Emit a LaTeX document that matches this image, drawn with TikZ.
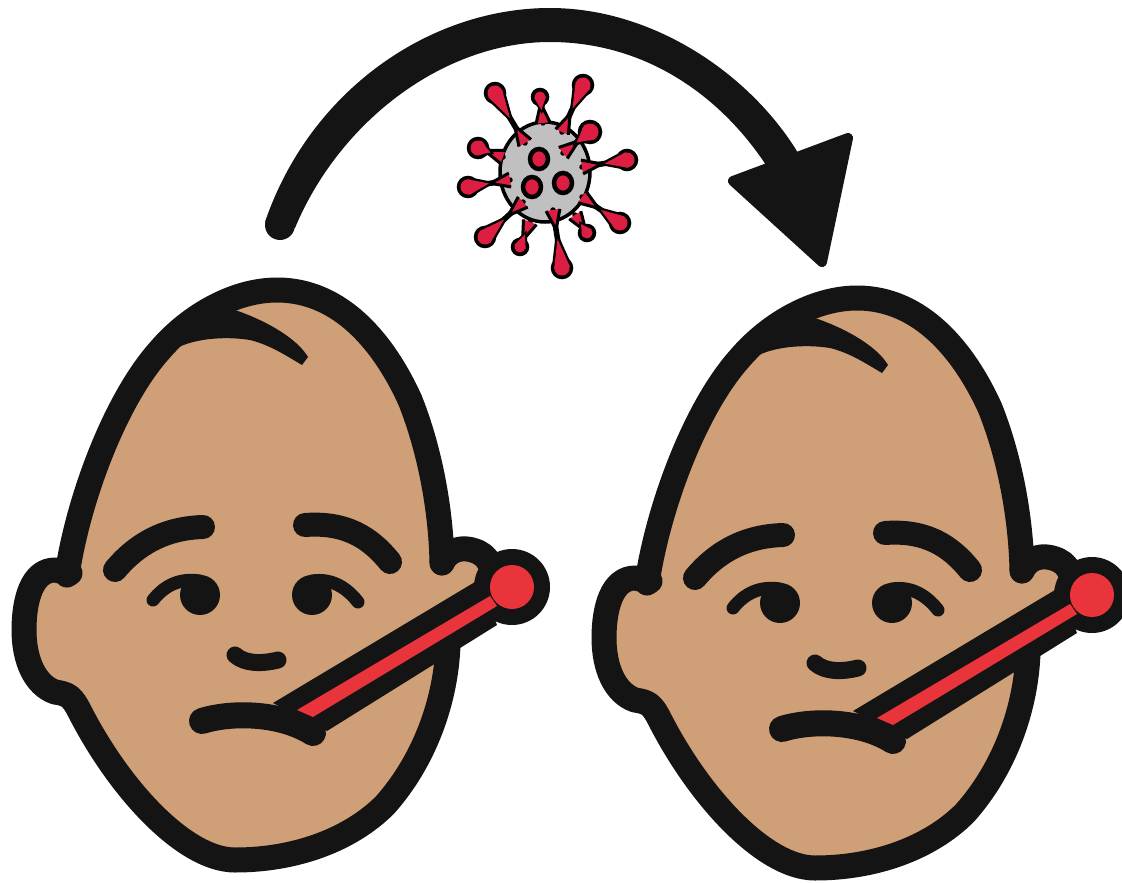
\documentclass[tikz,border=0pt]{standalone}
\usepackage{xcolor}
\usepackage{tikz}
\usetikzlibrary{arrows.meta,calc}
\definecolor{inkblack}{HTML}{141414}
\definecolor{skintone}{HTML}{CF9F78}
\definecolor{thermored}{HTML}{E8343A}
\definecolor{virusred}{HTML}{DC1E42}
\definecolor{virusgrey}{HTML}{C0C0C0}
\newcommand{\headoutline}{
    (448,645) .. controls (446,700) and (425,760) .. (385,805)
    .. controls (350,840) and (295,860) .. (235,860)
    .. controls (185,860) and (120,790) .. (80,712)
    .. controls (72,696) and (68,694) .. (55,692)
    .. controls (35,685) and (24,660) .. (24,630)
    .. controls (24,600) and (32,570) .. (55,570)
    -- (70,573) -- (67,575)
    .. controls (78,500) and (115,400) .. (160,350)
    .. controls (190,315) and (235,290) .. (277,290)
    .. controls (342,290) and (385,345) .. (410,400)
    .. controls (430,450) and (441,510) .. (442,563)
}
\tikzset{
    inkline/.style={
        draw=inkblack,
        line width=#1,
        line cap=round,
        line join=round
    },
    inkline/.default=25pt,
    spikeline/.style={
        draw=black,
        line width=5.5pt,
        line cap=round
    },
    spikehead/.style={
        draw=black,
        line width=4.5pt,
        fill=virusred
    },
    sickhead/.pic={
        \fill[skintone] \headoutline -- cycle;
        \fill[skintone] (440,555) -- (475,555) -- (490,590) -- (440,640) -- cycle;
        \draw[inkline] \headoutline;
        \draw[inkline] (442,563) .. controls (448,550) and (462,545) .. (478,552)
            .. controls (485,555) and (490,562) .. (492,570);
        \fill[inkblack] (170,352) .. controls (190,338) and (225,336) .. (250,340)
            .. controls (270,345) and (285,355) .. (302,365)
            -- (308,357) .. controls (298,340) and (270,322) .. (235,310)
            -- (210,310) -- cycle;
        \draw[inkline=24pt] (115,570) .. controls (140,540) and (170,528) .. (203,527);
        \draw[inkline=24pt] (305,525) .. controls (345,522) and (370,537) .. (390,562);
        \draw[inkline=13pt] (153,600) .. controls (165,585) and (180,578) .. (200,581);
        \draw[inkline=13pt] (312,581) .. controls (332,578) and (347,588) .. (358,602);
        \fill[inkblack] (200,595) circle (20);
        \fill[inkblack] (312,595) circle (20);
        \draw[inkline=17pt] (235,655) .. controls (245,664) and (262,664) .. (278,660);
        \draw[inkline=26pt] (202,721) .. controls (230,712) and (280,712) .. (313,733);
        \fill[inkblack] (512,587) circle (38);
        \fill[inkblack] (273,703) -- (480,579) -- (497,625) -- (327,731) -- cycle;
        \fill[inkblack] (313,733) circle (12);
        \fill[thermored] (512,587) circle (22);
        \fill[thermored] (490,596) -- (497,606) -- (313,717) -- (297,710) -- cycle;
    }
}
\begin{document}
\begin{tikzpicture}[x=1pt,y=-1pt]
    \useasboundingbox (0,0) rectangle (1122,883);

    \pic at (0,0) {sickhead};
    \pic at (580,8) {sickhead};

    \fill[inkblack] (265,222) .. controls (310,90) and (430,8) .. (550,8)
        .. controls (650,8) and (745,70) .. (795,148)
        -- (805,165) -- (775,180) -- (764,162)
        .. controls (715,90) and (640,42) .. (550,42)
        .. controls (445,42) and (340,120) .. (295,228) -- cycle;
    \fill[inkblack] (280,225) circle (15);
    \fill[inkblack, draw=inkblack, line width=10pt, line join=round]
        (848,138) -- (733,181) -- (822,262) -- cycle;

    \filldraw[draw=black, line width=3.5pt, fill=virusgrey] (545,172) ellipse (45 and 50);
    \foreach \cx/\cy in {539/159, 532/187, 563/183} {
        \filldraw[spikehead] (\cx,\cy) ellipse (9 and 10);
    }
    \foreach \bx/\by/\tx/\ty/\tr in {
        525/143/495/93/9, 543/123/540/97/7, 562/132/583/85/9, 563/153/590/132/10,
        582/167/627/160/9, 582/197/620/223/9, 575/215/587/233/7, 553/210/562/268/9,
        530/222/520/247/7, 523/202/485/237/9, 510/180/468/187/9, 503/157/478/148/9} {
        \coordinate (spikebase) at (\bx,\by);
        \coordinate (spiketip) at (\tx,\ty);
        \pgfmathsetmacro\blackw{\tr+1.5}
        \pgfmathsetmacro\redw{\tr-1}
        \draw[spikeline] (spikebase) -- (spiketip);
        \filldraw[draw=black, line width=3pt, line join=round, fill=virusred]
            ($(spikebase)!7pt!90:(spiketip)$) -- ($(spikebase)!20pt!(spiketip)$)
            -- ($(spikebase)!7pt!-90:(spiketip)$);
        \filldraw[spikehead] (spiketip) circle (\tr);
        \fill[black] ($(spiketip)!\blackw pt!90:(spikebase)$)
            -- ($(spiketip)!0.65!(spikebase)$)
            -- ($(spiketip)!\blackw pt!-90:(spikebase)$) -- cycle;
        \fill[virusred] ($(spiketip)!\redw pt!90:(spikebase)$)
            -- ($(spiketip)!0.5!(spikebase)$)
            -- ($(spiketip)!\redw pt!-90:(spikebase)$) -- cycle;
        \fill[virusred] (spiketip) circle (\tr-1.5);
    }
\end{tikzpicture}
\end{document}
